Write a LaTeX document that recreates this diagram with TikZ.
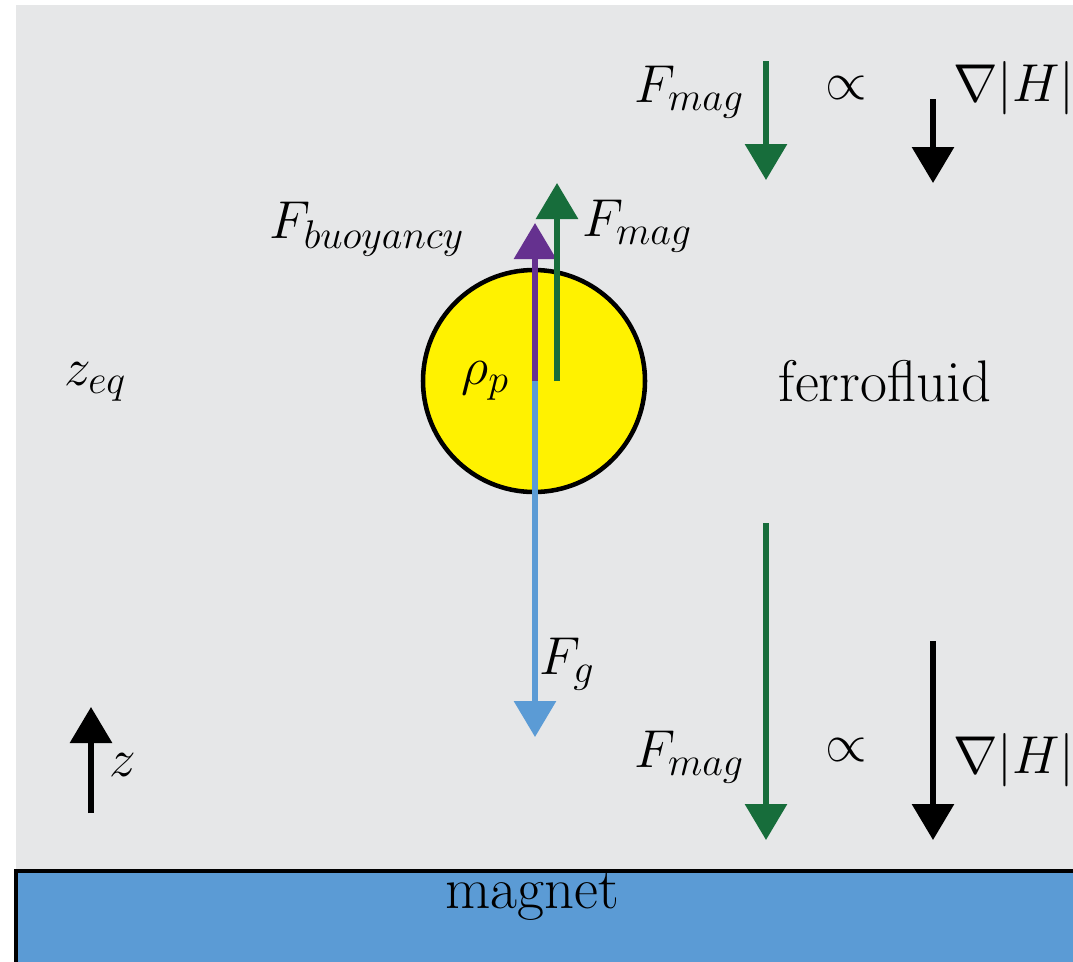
\documentclass[tikz,border=0pt]{standalone}
\usepackage{fix-cm}
\usepackage{amsmath}
\usepackage{fontspec}
\usetikzlibrary{arrows.meta}
\DeclareMathSizes{40}{40}{30}{24}
\definecolor{bgray}{HTML}{E6E7E8}
\definecolor{magblue}{HTML}{5B9BD5}
\definecolor{ballyellow}{HTML}{FFF200}
\definecolor{fgreen}{HTML}{176D3B}
\definecolor{fpurple}{HTML}{65318F}
\tikzset{
  lbl/.style={inner sep=0pt, font=\fontsize{40}{48}\selectfont},
  txt/.style={inner sep=0pt, font=\fontsize{44}{52}\selectfont},
  vec/.style={line width=3.9pt, -{Triangle[width=31pt,length=27pt]}},
}
\begin{document}
\begin{tikzpicture}[x=0.75pt,y=-0.75pt]
\useasboundingbox (0,0) rectangle (1073,961);
\clip (0,0) rectangle (1073,961);
% background fluid
\fill[bgray] (16,5) rectangle (1080,871);
% magnet
\draw[fill=magblue, line width=2.4pt] (16,871) rectangle (1090,980);
\node[txt] (magnet) at (532,896) {magnet};
% particle
\node[circle, draw=black, fill=ballyellow, line width=3.4pt, minimum size=222*0.75pt, inner sep=0pt] (ball) at (534,381) {};
\coordinate (c1) at (535,381);
\coordinate (c2) at (557,381);
\coordinate (tipB) at (535,223);
\coordinate (tipM) at (557,183);
\coordinate (tipG) at (535,737);
\draw[vec, magblue] (c1) -- (tipG);
\draw[vec, fpurple] (c1) -- (tipB);
\draw[vec, fgreen] (c2) -- (tipM);
\node[lbl] (rho) at (485,381) {$\rho_p$};
\node[lbl] (Fb) at (367,229) {$F_{buoyancy}$};
\node[lbl] (Fm) at (637,226) {$F_{mag}$};
\node[lbl] (Fg) at (567,664) {$F_g$};
% labels
\node[txt] (ff) at (885,381) {ferrofluid};
\node[lbl] (zeq) at (95,382) {$z_{eq}$};
% top relation
\coordinate (tg1) at (766,61);
\coordinate (tg2) at (766,180);
\coordinate (tk1) at (933,99);
\coordinate (tk2) at (933,183);
\draw[vec, fgreen] (tg1) -- (tg2);
\draw[vec, black] (tk1) -- (tk2);
\node[lbl] (FmT) at (689,92) {$F_{mag}$};
\node[lbl] (prT) at (846,88) {$\propto$};
\node[lbl] (gHT) at (1014,88) {$\nabla|H|$};
% bottom relation
\coordinate (bg1) at (766,523);
\coordinate (bg2) at (766,840);
\coordinate (bk1) at (933,641);
\coordinate (bk2) at (933,840);
\draw[vec, fgreen] (bg1) -- (bg2);
\draw[vec, black] (bk1) -- (bk2);
\node[lbl] (FmB) at (689,757) {$F_{mag}$};
\node[lbl] (prB) at (846,750) {$\propto$};
\node[lbl] (gHB) at (1014,760) {$\nabla|H|$};
% z axis
\coordinate (z1) at (91,813);
\coordinate (z2) at (91,707);
\draw[vec, black] (z1) -- (z2);
\node[lbl] (zl) at (123,765) {$z$};
\end{tikzpicture}
\end{document}
